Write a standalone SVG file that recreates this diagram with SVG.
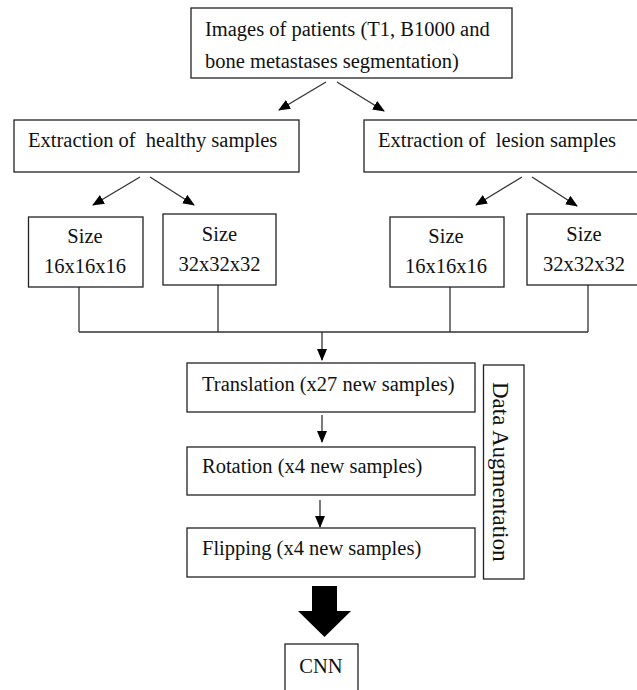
<svg xmlns="http://www.w3.org/2000/svg" width="637" height="690" viewBox="0 0 637 690">
<style>
.box{fill:#fff;stroke:#222;stroke-width:1.3}
.t{font-family:"Liberation Serif","Times New Roman",serif;font-size:20.5px;fill:#111}
.c{text-anchor:middle}
.ln{stroke:#333;stroke-width:1.3;fill:none}
</style>
<defs>
<marker id="ah" viewBox="0 0 12 10" refX="11" refY="5" markerWidth="12" markerHeight="10" markerUnits="userSpaceOnUse" orient="auto">
<path d="M0,0 L12,5 L0,10 z" fill="#000"/>
</marker>
</defs>
<rect width="637" height="690" fill="#fff"/>
<g id="connectors">
<line class="ln" x1="326" y1="82" x2="279" y2="110" marker-end="url(#ah)"/>
<line class="ln" x1="337" y1="82" x2="384" y2="111" marker-end="url(#ah)"/>
<line class="ln" x1="140" y1="177" x2="93" y2="205" marker-end="url(#ah)"/>
<line class="ln" x1="150" y1="177" x2="194" y2="205" marker-end="url(#ah)"/>
<line class="ln" x1="522" y1="177" x2="476" y2="205" marker-end="url(#ah)"/>
<line class="ln" x1="532" y1="177" x2="577" y2="206" marker-end="url(#ah)"/>
<path class="ln" d="M79,287 V332 M218,285 V332 M450,287 V332 M588,285 V332 M79,332 H588"/>
<line class="ln" x1="322" y1="332" x2="322" y2="360" marker-end="url(#ah)"/>
<line class="ln" x1="322" y1="415" x2="322" y2="442" marker-end="url(#ah)"/>
<line class="ln" x1="320" y1="500" x2="320" y2="527" marker-end="url(#ah)"/>
<polygon points="312,586 337,586 337,611 351,611 324.5,637 298,611 312,611" fill="#000"/>
</g>
<g id="images">
<rect class="box" x="191" y="8" width="321" height="70"/>
<text class="t" x="205" y="36">Images of patients (T1, B1000 and</text>
<text class="t" x="205" y="68">bone metastases segmentation)</text>
</g>
<g id="healthy">
<rect class="box" x="14" y="120" width="285" height="52"/>
<text class="t" x="28" y="147" xml:space="preserve">Extraction of  healthy samples</text>
</g>
<g id="lesion">
<rect class="box" x="364" y="120" width="280" height="52"/>
<text class="t" x="378" y="147" xml:space="preserve">Extraction of  lesion samples</text>
</g>
<g id="h16">
<rect class="box" x="28.5" y="217" width="114.5" height="70"/>
<text class="t c" x="85" y="243">Size</text>
<text class="t c" x="85" y="273">16x16x16</text>
</g>
<g id="h32">
<rect class="box" x="163" y="214" width="113" height="71"/>
<text class="t c" x="219.5" y="241">Size</text>
<text class="t c" x="219.5" y="271">32x32x32</text>
</g>
<g id="l16">
<rect class="box" x="390" y="217" width="114" height="70"/>
<text class="t c" x="446" y="243">Size</text>
<text class="t c" x="446" y="273">16x16x16</text>
</g>
<g id="l32">
<rect class="box" x="527" y="214" width="120" height="71"/>
<text class="t c" x="584" y="241">Size</text>
<text class="t c" x="584" y="271">32x32x32</text>
</g>
<g id="translation">
<rect class="box" x="187" y="363" width="288" height="49"/>
<text class="t" x="202" y="391">Translation (x27 new samples)</text>
</g>
<g id="rotation">
<rect class="box" x="187" y="447" width="288" height="48"/>
<text class="t" x="202" y="473">Rotation (x4 new samples)</text>
</g>
<g id="flipping">
<rect class="box" x="187" y="528" width="288" height="49"/>
<text class="t" x="202" y="555">Flipping (x4 new samples)</text>
</g>
<g id="augmentation">
<rect class="box" x="483.5" y="365" width="40.5" height="214"/>
<text class="t" transform="translate(493,382) rotate(90)" style="font-size:23px">Data Augmentation</text>
</g>
<g id="cnn">
<rect class="box" x="285" y="644" width="73" height="60"/>
<text class="t c" x="321" y="673">CNN</text>
</g>
</svg>
